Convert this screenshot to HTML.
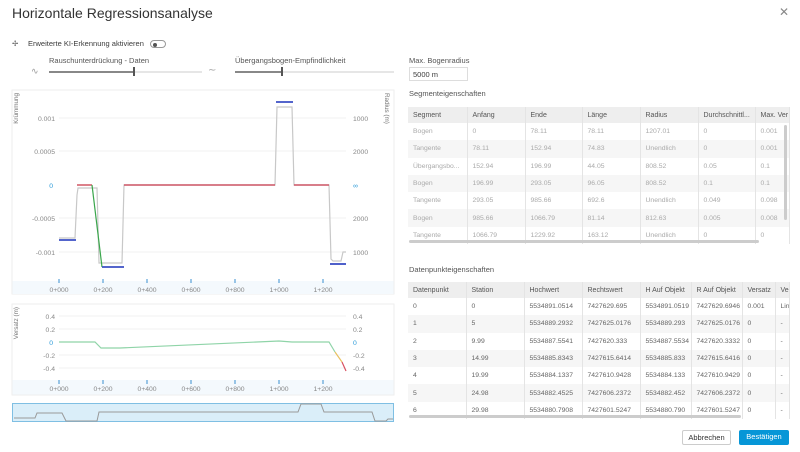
<!DOCTYPE html>
<html><head><meta charset="utf-8"><style>
*{box-sizing:border-box;margin:0;padding:0}
body{width:800px;height:452px;background:#fff;font-family:"Liberation Sans",sans-serif;color:#3c3c3c;position:relative;overflow:hidden}
.a{position:absolute;white-space:nowrap}
.s{font-size:7.5px}
table{border-collapse:collapse;position:absolute;font-size:6.8px;table-layout:fixed}
td,th{height:17.3px;padding-left:5px;text-align:left;font-weight:normal;border-right:1px solid #e4e4e4;overflow:hidden;white-space:nowrap}
th{background:#eeeeee;color:#555;height:16px;font-size:7px}
tr:nth-child(odd) td{background:#f6f6f6}
.t1 td{color:#aaa}
.t2 td{color:#666}
.btn{position:absolute;font-size:7.5px;text-align:center;line-height:14px;border-radius:2px}
</style></head><body>
<div class="a" style="left:12px;top:5px;font-size:14px;color:#333">Horizontale Regressionsanalyse</div>
<div class="a" style="left:779px;top:5px;font-size:12px;color:#888">✕</div>
<div class="a s" style="left:12px;top:39px;color:#555">✢</div>
<div class="a s" style="left:28px;top:39px">Erweiterte KI-Erkennung aktivieren</div>
<div class="a" style="left:150px;top:40px;width:16px;height:8px;border:1px solid #999;border-radius:5px"><div style="position:absolute;left:2px;top:1.5px;width:4px;height:4px;border-radius:50%;background:#555"></div></div>
<div class="a s" style="left:49px;top:56px;color:#555">Rauschunterdrückung - Daten</div>
<div class="a s" style="left:235px;top:56px;color:#555">Übergangsbogen-Empfindlichkeit</div>
<div class="a" style="left:31px;top:66px;font-size:9px;color:#999">∿</div>
<div class="a" style="left:49px;top:71px;width:153px;height:2px;background:#e6e6e6"></div>
<div class="a" style="left:49px;top:71px;width:85px;height:2px;background:#888"></div>
<div class="a" style="left:133px;top:67px;width:2px;height:9px;background:#555"></div>
<div class="a" style="left:208px;top:65px;font-size:10px;color:#aaa">∼</div>
<div class="a" style="left:235px;top:71px;width:159px;height:2px;background:#e6e6e6"></div>
<div class="a" style="left:235px;top:71px;width:47px;height:2px;background:#888"></div>
<div class="a" style="left:281px;top:67px;width:2px;height:9px;background:#555"></div>

<svg class="a" style="left:0;top:0" width="400" height="452" font-family="Liberation Sans,sans-serif">
<rect x="12" y="90" width="382" height="204" fill="#fff" stroke="#eee"/>
<rect x="12.5" y="281" width="381" height="13" fill="#f4f9fd"/>
<g stroke="#f2f2f2"><line x1="59" x2="346" y1="118" y2="118"/><line x1="59" x2="346" y1="151" y2="151"/><line x1="59" x2="346" y1="218" y2="218"/><line x1="59" x2="346" y1="252" y2="252"/></g>
<g font-size="6.8" fill="#888" text-anchor="end"><text x="55" y="121">0.001</text><text x="55" y="154">0.0005</text><text x="53" y="188" fill="#2a9ad8">0</text><text x="55" y="221">-0.0005</text><text x="55" y="255">-0.001</text></g>
<g font-size="6.8" fill="#888"><text x="353" y="121">1000</text><text x="353" y="154">2000</text><text x="353" y="188" fill="#2a9ad8">∞</text><text x="353" y="221">2000</text><text x="353" y="255">1000</text></g>
<text font-size="6.3" fill="#777" text-anchor="end" transform="translate(18,93) rotate(-90)">Krümmung</text>
<text font-size="6.3" fill="#777" transform="translate(385,93) rotate(90)">Radius (m)</text>
<polyline fill="none" stroke="#c8c8c8" stroke-width="1.2" points="59,238 75,238 77,195 78,188 97,188 99,263 122,263 124,185 275,185 277,107 292,107 294,185 329,185 331,259 333,261 341,261 343,252 346,252"/>
<g stroke="#c93b4c" stroke-width="1.3"><line x1="77" x2="92" y1="185" y2="185"/><line x1="124" x2="275" y1="185" y2="185"/><line x1="294" x2="329" y1="185" y2="185"/></g>
<line x1="92" y1="185" x2="102" y2="267" stroke="#3aa64c" stroke-width="1.2"/>
<g stroke="#3b4fc4" stroke-width="1.8"><line x1="59" x2="76" y1="240" y2="240"/><line x1="102" x2="124" y1="267" y2="267"/><line x1="276" x2="293" y1="102" y2="102"/><line x1="330" x2="346" y1="264" y2="264"/></g>
<g stroke="#3a8fd0"><line x1="59" x2="59" y1="279" y2="283"/><line x1="103" x2="103" y1="279" y2="283"/><line x1="147" x2="147" y1="279" y2="283"/><line x1="191" x2="191" y1="279" y2="283"/><line x1="235" x2="235" y1="279" y2="283"/><line x1="279" x2="279" y1="279" y2="283"/><line x1="323" x2="323" y1="279" y2="283"/></g>
<g font-size="6.8" fill="#888" text-anchor="middle"><text x="59" y="292">0+000</text><text x="103" y="292">0+200</text><text x="147" y="292">0+400</text><text x="191" y="292">0+600</text><text x="235" y="292">0+800</text><text x="279" y="292">1+000</text><text x="323" y="292">1+200</text></g>

<rect x="12" y="304" width="382" height="91" fill="#fff" stroke="#eee"/>
<rect x="12.5" y="380" width="381" height="14.5" fill="#f4f9fd"/>
<g stroke="#f2f2f2"><line x1="59" x2="346" y1="316" y2="316"/><line x1="59" x2="346" y1="329" y2="329"/><line x1="59" x2="346" y1="355" y2="355"/><line x1="59" x2="346" y1="368" y2="368"/></g>
<g font-size="6.8" fill="#888" text-anchor="end"><text x="55" y="319">0.4</text><text x="55" y="332">0.2</text><text x="53" y="345" fill="#2a9ad8">0</text><text x="55" y="358">-0.2</text><text x="55" y="371">-0.4</text></g>
<g font-size="6.8" fill="#888"><text x="353" y="319">0.4</text><text x="353" y="332">0.2</text><text x="353" y="345" fill="#2a9ad8">0</text><text x="353" y="358">-0.2</text><text x="353" y="371">-0.4</text></g>
<text font-size="6.3" fill="#777" text-anchor="end" transform="translate(18,307) rotate(-90)">Versatz (m)</text>
<polyline fill="none" stroke="#8fd4a8" stroke-width="1.2" points="59,342 95,342 101,348 120,348 279,341 292,342 329,342 335,352"/>
<polyline fill="none" stroke="#e8c060" stroke-width="1.2" points="335,352 342,362"/>
<polyline fill="none" stroke="#d85060" stroke-width="1.2" points="342,362 346,371"/>
<g stroke="#3a8fd0"><line x1="59" x2="59" y1="380" y2="384"/><line x1="103" x2="103" y1="380" y2="384"/><line x1="147" x2="147" y1="380" y2="384"/><line x1="191" x2="191" y1="380" y2="384"/><line x1="235" x2="235" y1="380" y2="384"/><line x1="279" x2="279" y1="380" y2="384"/><line x1="323" x2="323" y1="380" y2="384"/></g>
<g font-size="6.8" fill="#888" text-anchor="middle"><text x="59" y="391">0+000</text><text x="103" y="391">0+200</text><text x="147" y="391">0+400</text><text x="191" y="391">0+600</text><text x="235" y="391">0+800</text><text x="279" y="391">1+000</text><text x="323" y="391">1+200</text></g>

<rect x="12.5" y="403.5" width="381" height="18" fill="#daeef9" stroke="#7fbfe3"/>
<polyline fill="none" stroke="#999" stroke-width="1" points="14,418 35,418 37,413 62,413 66,421 97,421 99,412 298,412 301,404 321,404 324,412 372,412 375,421 386,421 388,419 393,419"/>
</svg>

<div class="a s" style="left:409px;top:56px;color:#555">Max. Bogenradius</div>
<div class="a" style="left:409px;top:67px;width:59px;height:14px;border:1px solid #ddd;font-size:7.5px;padding:2px 0 0 3px">5000 m</div>
<div class="a s" style="left:409px;top:89px;color:#555">Segmenteigenschaften</div>
<table class="t1" style="left:408px;top:107px;width:381px">
<colgroup><col style="width:59px"><col style="width:58px"><col style="width:57px"><col style="width:58px"><col style="width:58px"><col style="width:57px"><col style="width:34px"></colgroup>
<tr><th>Segment</th><th>Anfang</th><th>Ende</th><th>Länge</th><th>Radius</th><th>Durchschnittl...</th><th>Max. Ver</th></tr>
<tr><td>Bogen</td><td>0</td><td>78.11</td><td>78.11</td><td>1207.01</td><td>0</td><td>0.001</td></tr>
<tr><td>Tangente</td><td>78.11</td><td>152.94</td><td>74.83</td><td>Unendlich</td><td>0</td><td>0.001</td></tr>
<tr><td>Übergangsbo...</td><td>152.94</td><td>196.99</td><td>44.05</td><td>808.52</td><td>0.05</td><td>0.1</td></tr>
<tr><td>Bogen</td><td>196.99</td><td>293.05</td><td>96.05</td><td>808.52</td><td>0.1</td><td>0.1</td></tr>
<tr><td>Tangente</td><td>293.05</td><td>985.66</td><td>692.6</td><td>Unendlich</td><td>0.049</td><td>0.098</td></tr>
<tr><td>Bogen</td><td>985.66</td><td>1066.79</td><td>81.14</td><td>812.63</td><td>0.005</td><td>0.008</td></tr>
<tr><td>Tangente</td><td>1066.79</td><td>1229.92</td><td>163.12</td><td>Unendlich</td><td>0</td><td>0</td></tr>
</table>
<div class="a" style="left:409px;top:240px;width:350px;height:3px;background:#ccc;border-radius:2px"></div>
<div class="a" style="left:784px;top:125px;width:3px;height:95px;background:#ccc;border-radius:2px"></div>

<div class="a s" style="left:409px;top:265px;color:#555">Datenpunkteigenschaften</div>
<table class="t2" style="left:408px;top:282px;width:381px">
<colgroup><col style="width:58px"><col style="width:58px"><col style="width:58px"><col style="width:58px"><col style="width:51px"><col style="width:51px"><col style="width:33px"><col style="width:14px"></colgroup>
<tr><th>Datenpunkt</th><th>Station</th><th>Hochwert</th><th>Rechtswert</th><th>H Auf Objekt</th><th>R Auf Objekt</th><th>Versatz</th><th>Ve</th></tr>
<tr><td>0</td><td>0</td><td>5534891.0514</td><td>7427629.695</td><td>5534891.0519</td><td>7427629.6946</td><td>0.001</td><td>Lin</td></tr>
<tr><td>1</td><td>5</td><td>5534889.2932</td><td>7427625.0176</td><td>5534889.293</td><td>7427625.0176</td><td>0</td><td>-</td></tr>
<tr><td>2</td><td>9.99</td><td>5534887.5541</td><td>7427620.333</td><td>5534887.5534</td><td>7427620.3332</td><td>0</td><td>-</td></tr>
<tr><td>3</td><td>14.99</td><td>5534885.8343</td><td>7427615.6414</td><td>5534885.833</td><td>7427615.6416</td><td>0</td><td>-</td></tr>
<tr><td>4</td><td>19.99</td><td>5534884.1337</td><td>7427610.9428</td><td>5534884.133</td><td>7427610.9429</td><td>0</td><td>-</td></tr>
<tr><td>5</td><td>24.98</td><td>5534882.4525</td><td>7427606.2372</td><td>5534882.452</td><td>7427606.2372</td><td>0</td><td>-</td></tr>
<tr><td>6</td><td>29.98</td><td>5534880.7908</td><td>7427601.5247</td><td>5534880.790</td><td>7427601.5247</td><td>0</td><td>-</td></tr>
</table>
<div class="a" style="left:409px;top:415px;width:332px;height:3px;background:#ccc;border-radius:2px"></div>

<div class="btn" style="left:682px;top:430px;width:49px;height:15px;border:1px solid #ccc;color:#333">Abbrechen</div>
<div class="btn" style="left:739px;top:430px;width:50px;height:15px;background:#0696d7;color:#fff">Bestätigen</div>
</body></html>
